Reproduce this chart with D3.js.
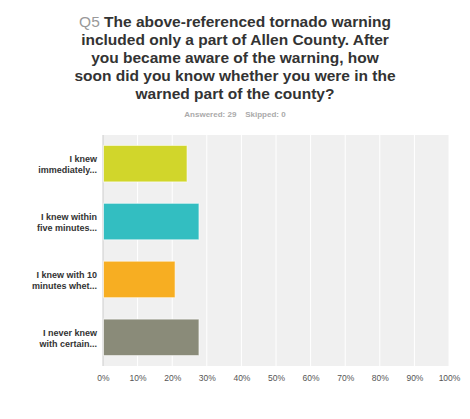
<!DOCTYPE html>
<html><head><meta charset="utf-8">
<script src="https://cdn.jsdelivr.net/npm/d3@7"></script>
<style>body{margin:0;background:#fff}</style>
</head><body><div id="chart"></div>
<script>
// data
const categories = [["I knew", "immediately..."], ["I knew within", "five minutes..."], ["I knew with 10", "minutes whet..."], ["I never knew", "with certain..."]];
const values = [24.14, 27.59, 20.69, 27.59];
const colors = ["#d1d62b", "#33bec1", "#f7ae22", "#8a8b79"];
const ticks = [0, 10, 20, 30, 40, 50, 60, 70, 80, 90, 100];
const titleLines = ["The above-referenced tornado warning", "included only a part of Allen County. After", "you became aware of the warning, how", "soon did you know whether you were in the", "warned part of the county?"];

let width = 470, height = 419;
let margin = {top: 135, bottom: 53, left: 103, right: 21};

let svg = d3.select('#chart').append('svg')
  .attr('width', width).attr('height', height)
  .style('font-family', 'Liberation Sans, Arial, sans-serif');

// title
titleLines.forEach((t, i) => {
  let txt = svg.append('text')
    .attr('x', 235).attr('y', 27 + i * 18)
    .attr('text-anchor', 'middle')
    .attr('font-size', 15.5).attr('font-weight', 'bold').attr('fill', '#333');
  if (i == 0) txt.append('tspan').attr('fill', '#999').attr('font-weight', 'normal').text('Q5 ');
  txt.append('tspan').text(t);
});
svg.append('text').attr('x', 235).attr('y', 117).attr('text-anchor', 'middle')
  .attr('font-size', 8).attr('font-weight', 'bold').attr('fill', '#aaa')
  .text('Answered: 29    Skipped: 0').attr('xml:space', 'preserve');

let x = d3.scaleLinear().domain([0, 100]).range([margin.left, width - margin.right]);
let y = d3.scaleBand().domain(d3.range(categories.length))
  .range([margin.top, height - margin.bottom]).paddingInner(0.37).paddingOuter(0.18);

// background
svg.append('rect').attr('x', x(0)).attr('y', margin.top)
  .attr('width', x(100) - x(0)).attr('height', height - margin.bottom - margin.top)
  .attr('fill', '#f0f0f0');

// gridlines
svg.selectAll('.grid').data(ticks).enter().append('line')
  .attr('x1', d => x(d)).attr('x2', d => x(d))
  .attr('y1', margin.top).attr('y2', height - margin.bottom)
  .attr('stroke', d => d == 0 ? '#ccc' : '#fff').attr('stroke-width', 1);

// axis
let xaxis = svg.append('g')
  .attr('transform', `translate(0,${height - margin.bottom + 4})`)
  .call(d3.axisBottom(x).tickValues(ticks).tickFormat(d => d + '%').tickSize(0));
xaxis.select('.domain').remove();
xaxis.selectAll('text').attr('font-size', 8.5).attr('fill', '#555')
  .attr('font-family', 'Liberation Sans, Arial, sans-serif').attr('dy', '0.9em');

// bars
svg.selectAll('.bar').data(values).enter().append('rect')
  .attr('x', x(0) + 0.5).attr('y', (d, i) => y(i))
  .attr('width', d => x(d) - x(0)).attr('height', y.bandwidth())
  .attr('fill', (d, i) => colors[i]).attr('stroke', '#fff').attr('stroke-opacity', 0.6);

// labels
categories.forEach((c, i) => {
  c.forEach((line, j) => {
    svg.append('text').attr('x', 97).attr('y', y(i) + y.bandwidth() / 2 + (j - 0.5) * 11 + 4)
      .attr('text-anchor', 'end').attr('font-size', 9).attr('font-weight', 'bold')
      .attr('fill', '#333').text(line);
  });
});
</script></body></html>
